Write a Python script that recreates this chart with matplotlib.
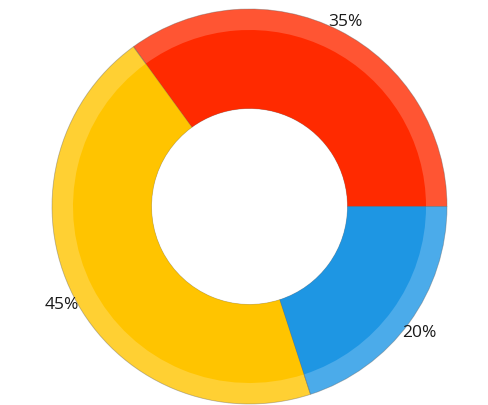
import matplotlib.pyplot as plt
import numpy as np

# valores del grafico de anillo
etiquetas = ['35%', '45%', '20%']
valores = [35, 45, 20]
colores = ['#FF2A00', '#FFC400', '#1E96E3']
colores_claros = ['#FF5533', '#FFD033', '#4BABEA']

fig = plt.figure(figsize=(4.89, 4.06), dpi=100)
ax = fig.add_axes([0, 0, 1, 1])

centro = (249.5, 406 - 207.5)
r_ext = 197.5
r_med = 176.5
r_int = 98

# anillo completo en tono claro, con borde fino
ax.pie(valores, colors=colores_claros, startangle=0, counterclock=True,
       radius=r_ext, center=centro,
       wedgeprops=dict(width=r_ext - r_int, edgecolor=(0.35, 0.35, 0.35, 0.25), linewidth=0.6))

# parte interna mas oscura
ax.pie(valores, colors=colores, startangle=0, counterclock=True,
       radius=r_med, center=centro,
       wedgeprops=dict(width=r_med - r_int, edgecolor='none', linewidth=0))

# separadores finos entre porciones
ax.pie(valores, colors=['none'] * 3, startangle=0, counterclock=True,
       radius=r_ext, center=centro,
       wedgeprops=dict(width=r_ext - r_int, edgecolor=(0.35, 0.35, 0.35, 0.2), linewidth=0.5, fill=False))

# etiquetas afuera
ang = 0
for lab, v in zip(etiquetas, valores):
    medio = np.deg2rad(ang + v * 3.6 / 2)
    ang += v * 3.6
    x = centro[0] + 1.065 * r_ext * np.cos(medio)
    y = centro[1] + 1.065 * r_ext * np.sin(medio)
    ax.text(x, y, lab, ha='center', va='center_baseline', fontsize=12.5,
            family='Open Sans', color='#1a1a1a')

ax.set_xlim(0, 489)
ax.set_ylim(0, 406)
ax.set_aspect('equal')
ax.axis('off')

plt.savefig('out.png', dpi=100)
